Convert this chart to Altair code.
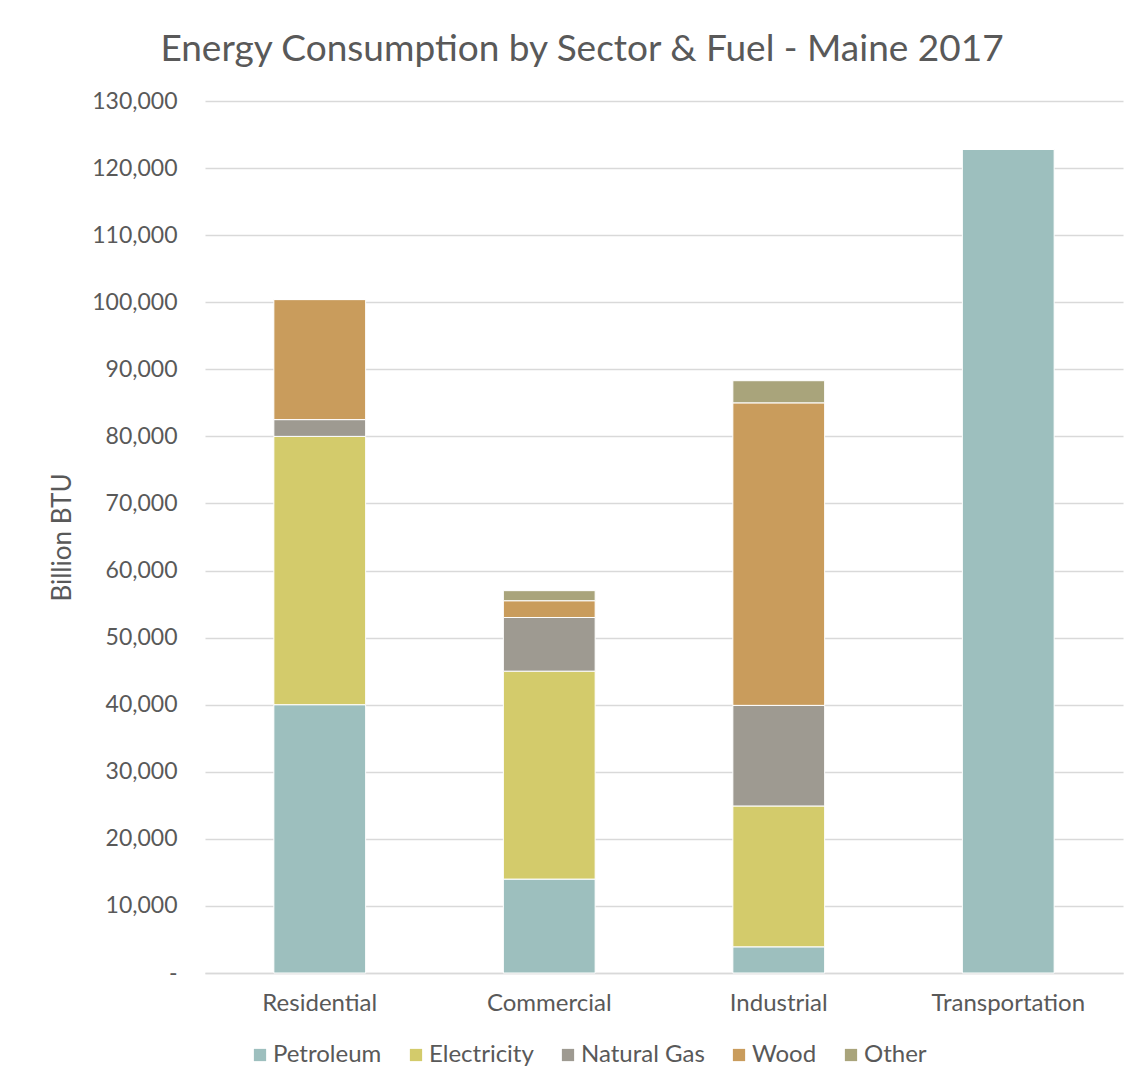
import altair as alt
import pandas as pd

sectors = ["Residential", "Commercial", "Industrial", "Transportation"]
fuels = ["Petroleum", "Electricity", "Natural Gas", "Wood", "Other"]
colors = ["#9DBFBE", "#D3CB6B", "#9E9A91", "#C99C5C", "#A9A47B"]

petroleum = [40000, 14000, 3900, 122800]
electricity = [40000, 31000, 21000, 0]
natural_gas = [2500, 8000, 15000, 0]
wood = [17900, 2500, 45100, 0]
other = [0, 1500, 3300, 0]

series = [petroleum, electricity, natural_gas, wood, other]
rows = []
for fi, (f, vals) in enumerate(zip(fuels, series)):
    for s, v in zip(sectors, vals):
        rows.append({"Sector": s, "Fuel": f, "Value": v, "order": fi})
df = pd.DataFrame(rows)

FONT = "Lato"
GREY = "#595959"

chart = alt.Chart(df).mark_bar(stroke="white", strokeWidth=1).encode(
    x=alt.X("Sector:N", sort=sectors, title=None,
            scale=alt.Scale(paddingInner=0.6, paddingOuter=0.3),
            axis=alt.Axis(labelAngle=0, labelFontSize=24, labelColor=GREY, labelFont=FONT,
                          labelPadding=18, ticks=False, domainColor="#d9d9d9", domainWidth=1.5)),
    y=alt.Y("Value:Q", stack="zero", title="Billion BTU",
            scale=alt.Scale(domain=[0, 130000], nice=False),
            axis=alt.Axis(values=list(range(0, 130001, 10000)),
                          labelExpr="datum.value == 0 ? '-' : format(datum.value, ',')",
                          labelFontSize=23, labelColor=GREY, labelFont=FONT, labelPadding=28,
                          ticks=False, domain=False, gridColor="#d9d9d9", gridWidth=1.5,
                          titleFontSize=26, titleFont=FONT, titleColor=GREY, titleFontWeight="normal",
                          titlePadding=16)),
    color=alt.Color("Fuel:N", sort=fuels,
                    scale=alt.Scale(domain=fuels, range=colors),
                    legend=alt.Legend(title=None, orient="none", direction="horizontal",
                                      legendX=43, legendY=942, symbolType="square",
                                      symbolSize=150, symbolStrokeWidth=0, labelFontSize=24,
                                      labelFont=FONT, labelColor=GREY, columnPadding=22,
                                      labelOffset=1)),
    order=alt.Order("order:Q"),
).properties(
    width=918, height=872,
    title=alt.TitleParams("Energy Consumption by Sector & Fuel - Maine 2017",
                          fontSize=37, font=FONT, color=GREY, fontWeight="normal",
                          anchor="middle", dx=-82, offset=21),
    padding={"left": 197, "top": 93, "right": 15, "bottom": 100},
    autosize=alt.AutoSizeParams(type="none"),
).configure_view(stroke=None)

chart.save("out.html", embed_options={"renderer": "svg", "actions": False})
